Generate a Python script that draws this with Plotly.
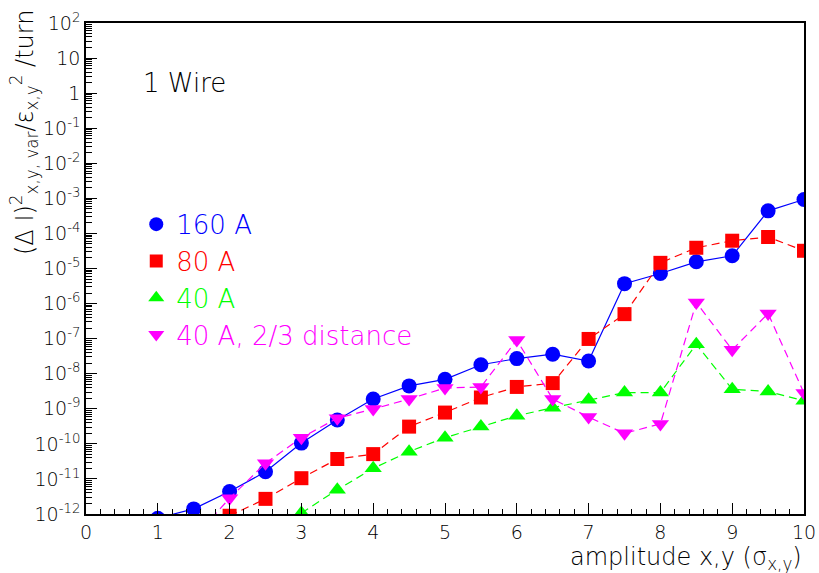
import plotly.graph_objects as go

# ---- data ----
x_160 = [1.0, 1.5, 2.0, 2.5, 3.0, 3.5, 4.0, 4.5, 5.0, 5.5, 6.0, 6.5, 7.0, 7.5, 8.0, 8.5, 9.0, 9.5, 10.0]
y_160 = [7.6e-13, 1.4e-12, 4.4e-12, 1.6e-11, 1.05e-10, 4.8e-10, 1.9e-9, 4.5e-9, 6.9e-9, 1.8e-8,
         2.7e-8, 3.6e-8, 2.3e-8, 3.7e-6, 7.2e-6, 1.55e-5, 2.3e-5, 4.4e-4, 9.3e-4]

x_80 = [2.0, 2.5, 3.0, 3.5, 4.0, 4.5, 5.0, 5.5, 6.0, 6.5, 7.0, 7.5, 8.0, 8.5, 9.0, 9.5, 10.0]
y_80 = [8.9e-13, 2.7e-12, 1.05e-11, 3.7e-11, 5.1e-11, 3.1e-10, 7.8e-10, 2.1e-9, 4.2e-9, 5.4e-9,
        9.8e-8, 5.0e-7, 1.45e-5, 3.9e-5, 6.2e-5, 7.9e-5, 3.2e-5]

x_40 = [3.0, 3.5, 4.0, 4.5, 5.0, 5.5, 6.0, 6.5, 7.0, 7.5, 8.0, 8.5, 9.0, 9.5, 10.0]
y_40 = [1.07e-12, 4.9e-12, 2.0e-11, 6.0e-11, 1.5e-10, 3.1e-10, 6.3e-10, 1.07e-9, 1.8e-9, 2.9e-9,
        2.9e-9, 6.9e-8, 3.6e-9, 3.1e-9, 1.7e-9]

x_40d = [1.5, 2.0, 2.5, 3.0, 3.5, 4.0, 4.5, 5.0, 5.5, 6.0, 6.5, 7.0, 7.5, 8.0, 8.5, 9.0, 9.5, 10.0]
y_40d = [2.1e-13, 2.8e-12, 2.8e-11, 1.5e-10, 5.4e-10, 9.8e-10, 1.9e-9, 3.9e-9, 4.2e-9, 9.1e-8,
         1.9e-9, 5.8e-10, 2.0e-10, 3.7e-10, 1.07e-6, 4.8e-8, 5.2e-7, 2.8e-9]

names = ["160 A", "80 A", "40 A", "40 A, 2/3 distance"]
colors = ["#0000ff", "#ff0000", "#00ff00", "#ff00ff"]
symbols = ["circle", "square", "triangle-up", "triangle-down"]

y_exponents = list(range(-12, 3))
y_ticktext = ["1" if e == 0 else "10" if e == 1 else "10<sup>%d</sup>" % e for e in y_exponents]

FONT = "DejaVu Sans"
W = 200

fig = go.Figure()
series = [(x_160, y_160), (x_80, y_80), (x_40, y_40), (x_40d, y_40d)]
dashes = ["solid", "8px,5px", "8px,5px", "8px,5px"]
sizes = [15, 14, 15, 15]
for (xs, ys), nm, c, s, d, sz in zip(series, names, colors, symbols, dashes, sizes):
    fig.add_trace(go.Scatter(
        x=xs, y=ys, mode="lines+markers", name=nm, showlegend=False,
        line=dict(color=c, width=1.2, dash=d),
        marker=dict(color=c, symbol=s, size=sz, line=dict(width=0)),
    ))
# legend-only entries (markers only, coloured text)
for nm, c, s, sz in zip(names, colors, symbols, sizes):
    fig.add_trace(go.Scatter(
        x=[None], y=[None], mode="markers",
        name='<span style="color:%s">%s</span>' % (c, nm),
        marker=dict(color=c, symbol=s, size=sz - 1),
    ))

minor_y = [m * 10.0 ** e for e in range(-12, 2) for m in range(2, 10)]

fig.update_layout(
    width=819, height=573,
    margin=dict(l=86, r=15, t=23, b=59, autoexpand=False),
    paper_bgcolor="white", plot_bgcolor="white",
    font=dict(family=FONT, size=18, color="black", weight=W),
    showlegend=True,
    legend=dict(x=0.07, y=0.638, xanchor="left", yanchor="top",
                bgcolor="rgba(0,0,0,0)", font=dict(size=26, family=FONT, weight=W),
                itemsizing="trace", tracegroupgap=0),
    xaxis=dict(range=[0, 10], tickmode="array", tickvals=list(range(0, 11)), automargin=False,
               ticks="inside", ticklen=11, tickwidth=1.2, tickcolor="black",
               showline=True, linecolor="black", linewidth=1.6, mirror=True,
               showgrid=False, zeroline=False,
               tickfont=dict(size=19, family=FONT),
               minor=dict(dtick=0.2, ticks="inside", ticklen=5, tickwidth=1, tickcolor="black",
                          showgrid=False)),
    yaxis=dict(type="log", range=[-12, 2], tickmode="array", automargin=False,
               tickvals=[10.0 ** e for e in y_exponents], ticktext=y_ticktext,
               ticks="inside", ticklen=11, tickwidth=1.2, tickcolor="black",
               showline=True, linecolor="black", linewidth=1.6, mirror=True,
               showgrid=False, zeroline=False,
               tickfont=dict(size=19, family=FONT),
               minor=dict(tickmode="array", tickvals=minor_y, ticks="inside", ticklen=6,
                          tickwidth=1, tickcolor="black", showgrid=False)),
)

fig.add_annotation(text="1 Wire", xref="paper", yref="paper", x=0.076, y=0.877,
                   xanchor="left", yanchor="middle", showarrow=False,
                   font=dict(size=26, family=FONT, color="black", weight=W))
fig.add_annotation(text="amplitude x,y (σ<sub>x,y</sub>)", xref="paper", yref="paper",
                   x=1.0, y=-0.056, xanchor="right", yanchor="top", showarrow=False,
                   font=dict(size=24, family=FONT, color="black", weight=W))
fig.add_annotation(text="(Δ I)<sup>2</sup><sub>x,y, var</sub>/ε<sub>x,y</sub><sup>2</sup> /turn",
                   xref="paper", yref="paper", x=-0.086, y=1.03,
                   xanchor="center", yanchor="top", textangle=-90, showarrow=False,
                   font=dict(size=24, family=FONT, color="black", weight=W))

# remove the browser's default 8px page margin so the figure fills the window exactly
fig.write_html("out.html", config={"displayModeBar": False},
               post_script="document.body.style.margin='0px';document.body.style.overflow='hidden';")
